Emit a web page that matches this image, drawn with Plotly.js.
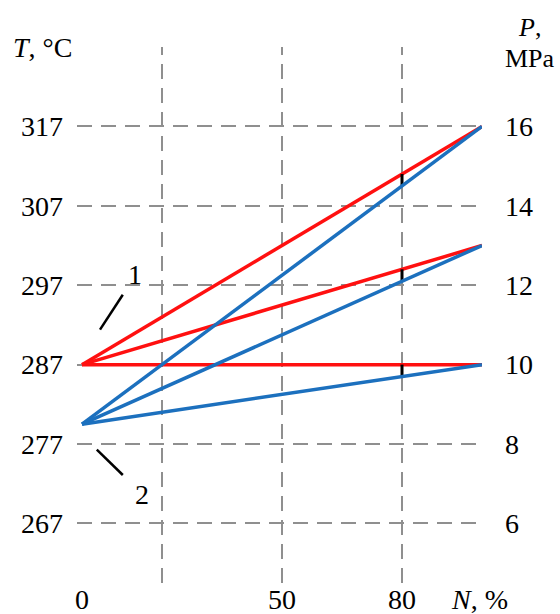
<!DOCTYPE html>
<html><head><meta charset="utf-8">
<script src="https://cdn.plot.ly/plotly-3.0.1.min.js"></script>
<style>html,body{margin:0;padding:0;background:#fff}#chart{width:560px;height:614px}</style>
</head><body><div id="chart"></div>
<script>
// Relative power N, %
const powerStart = 0;
const powerEnd = 100;
// Temperature, °C (left axis): common start, three end values
const tempStart = 287;
const tempEnd = [317, 302, 287];
// Pressure, MPa (right axis): common start, three end values
const pressStart = 8.5;
const pressEnd = [16, 13, 10];
// Power level where the gap between the curves is marked
const markN = 80;

const xTickVals = [0, 50, 80];
const xGridVals = [20, 50, 80];
const tTicks = [267, 277, 287, 297, 307, 317];
const pTicks = [6, 8, 10, 12, 14, 16];

const tRange = [259.5, 327];
const pRange = [4.5, 18];
const pToT = p => tRange[0] + (p - pRange[0]) * (tRange[1] - tRange[0]) / (pRange[1] - pRange[0]);
const at = (a, b, n) => a + (b - a) * (n - powerStart) / (powerEnd - powerStart);

const FONT = 'Liberation Serif, Times New Roman, serif';
const RED = '#ff1010';
const BLUE = '#1c70be';
const GRID = '#8f8f8f';
const DASH = '15px,9px';

const traces = [];
tempEnd.forEach(e => traces.push({
  x: [powerStart, powerEnd], y: [tempStart, e], yaxis: 'y',
  mode: 'lines', line: {color: RED, width: 3.5}, hoverinfo: 'skip', showlegend: false
}));
pressEnd.forEach(e => traces.push({
  x: [powerStart, powerEnd], y: [pressStart, e], yaxis: 'y2',
  mode: 'lines', line: {color: BLUE, width: 3.5}, hoverinfo: 'skip', showlegend: false
}));
// Short black bars joining each pair of curves at N = 80 %
tempEnd.forEach((e, i) => traces.push({
  x: [markN, markN],
  y: [at(tempStart, e, markN), pToT(at(pressStart, pressEnd[i], markN))],
  yaxis: 'y', mode: 'lines', line: {color: '#000', width: 3},
  hoverinfo: 'skip', showlegend: false
}));

const shapes = xGridVals.map(v => ({
  type: 'line', xref: 'x', yref: 'paper', x0: v, x1: v, y0: 0, y1: 1,
  line: {color: GRID, width: 2, dash: DASH}, layer: 'below'
}));
// Leader lines for curve labels 1 and 2
shapes.push({type: 'line', xref: 'x', yref: 'y', x0: 4.5, y0: 291.4, x1: 10.2, y1: 295.8,
  line: {color: '#000', width: 2.5}});
shapes.push({type: 'line', xref: 'x', yref: 'y', x0: 3.7, y0: 276.3, x1: 10.2, y1: 273.1,
  line: {color: '#000', width: 2.5}});

const tf = {family: FONT, size: 28, color: '#000'};
const sf = {family: FONT, size: 26, color: '#000'};
const ann = (text, x, y, ref, font) => ({
  text: text, x: x, y: y, xref: ref ? 'x' : 'paper', yref: ref ? 'y' : 'paper',
  xanchor: 'center', yanchor: 'middle', showarrow: false, font: font || tf
});
const annotations = [
  ann('1', 13.25, 298.3, true),
  ann('2', 14.9, 270.6, true),
  ann('<i>T</i>, °C', -0.0852, 1.0, false),
  ann('<i>P</i>,', 1.118, 1.036, false, sf),
  ann('MPa', 1.1185, 0.979, false, sf),
  ann('<i>N</i>, %', 0.9926, -0.03, false)
];

const layout = {
  width: 560, height: 614,
  margin: {l: 77, r: 78, t: 47, b: 31, pad: 0},
  paper_bgcolor: '#fff', plot_bgcolor: '#fff',
  font: tf,
  showlegend: false,
  xaxis: {
    range: [-1.25, 100], tickvals: xTickVals, ticktext: xTickVals.map(String),
    showgrid: false, zeroline: false, showline: false, ticks: '',
    ticklabelstandoff: -3, fixedrange: true
  },
  yaxis: {
    range: tRange, tickvals: tTicks, ticktext: tTicks.map(String),
    showgrid: true, gridcolor: GRID, gridwidth: 2, griddash: DASH,
    zeroline: false, showline: false, ticks: '', ticklabelstandoff: 13, fixedrange: true
  },
  yaxis2: {
    range: pRange, tickvals: pTicks, ticktext: pTicks.map(String),
    overlaying: 'y', side: 'right', showgrid: false,
    zeroline: false, showline: false, ticks: '', ticklabelstandoff: 22, fixedrange: true
  },
  shapes: shapes,
  annotations: annotations
};

Plotly.newPlot('chart', traces, layout, {staticPlot: true, displayModeBar: false});
</script>
</body></html>
